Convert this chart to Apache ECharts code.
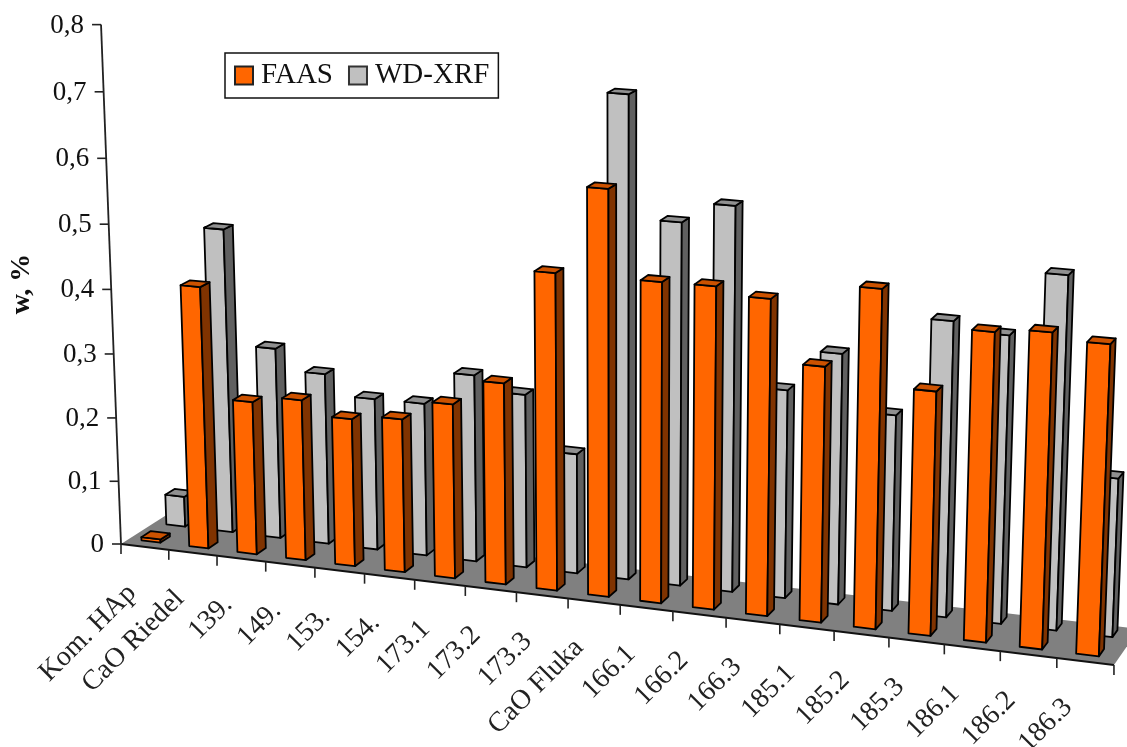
<!DOCTYPE html>
<html>
<head>
<meta charset="utf-8">
<script src="https://cdn.jsdelivr.net/npm/echarts@6/dist/echarts.min.js"></script>
<style>
html,body{margin:0;padding:0;background:#fff}
#chart{width:1127px;height:747px}
</style>
</head>
<body>
<div id="chart"></div>
<script>
const categories = ['Kom. HAp','CaO Riedel','139.','149.','153.','154.','173.1','173.2','173.3','CaO Fluka','166.1','166.2','166.3','185.1','185.2','185.3','186.1','186.2','186.3'];
const faas = [0.005,0.409,0.239,0.250,0.229,0.237,0.268,0.308,0.480,0.610,0.481,0.482,0.471,0.380,0.500,0.360,0.453,0.460,0.451];
const wdxrf = [0.048,0.478,0.300,0.268,0.237,0.238,0.290,0.268,0.185,0.730,0.549,0.580,0.315,0.377,0.294,0.440,0.427,0.521,0.235];
const valueTicks = [0,0.1,0.2,0.3,0.4,0.5,0.6,0.7,0.8];

const SERIF = '"Liberation Serif","Times New Roman",serif';
const VALUE_MAX = 0.8;
const GRID = {left:121, top:24, width:993, height:520};

// Perspective of the chart box: s runs along the categories (0..1),
// d runs from the front wall to the back wall (0..1), v is the axis value.
const L = -0.048;
function project(s, d, v) {
  const W = 1 - 0.09*s + 0.025*d + L*v;
  return [
    (121 + 892.7*s + 51.2*d + L*621*v) / W,
    (544 + 61.15*s - 17.15*d + L*13550*v) / W
  ];
}

// Reads the axis scales, then places the result in the perspective box.
function axisPos(api, params, catIndex, value) {
  const r = params.coordSys;
  const p = api.coord([catIndex, value]);
  return {s:(p[0]-r.x)/r.width, v:VALUE_MAX*(r.y+r.height-p[1])/r.height, band:1/categories.length};
}

function face(points, fill) {
  return {type:'polygon', shape:{points}, style:{fill, stroke:'#000', lineWidth:1.8, lineJoin:'round'}};
}

// One box: front, right side and top faces, drawn for a fixed depth slot.
function barRenderer(d0, d1, front, side, top) {
  return function (params, api) {
    const a = axisPos(api, params, api.value(0), api.value(1));
    const s0 = a.s - 0.24*a.band, s1 = a.s + 0.16*a.band, v = a.v;
    return {type:'group', children:[
      face([project(s0,d0,0),project(s1,d0,0),project(s1,d0,v),project(s0,d0,v)], front),
      face([project(s1,d0,0),project(s1,d1,0),project(s1,d1,v),project(s1,d0,v)], side),
      face([project(s0,d0,v),project(s1,d0,v),project(s1,d1,v),project(s0,d1,v)], top)
    ]};
  };
}

function renderFloor() {
  const front0 = project(0,0,0), front1 = project(1,0,0);
  return {type:'group', children:[
    {type:'polygon', shape:{points:[front0,front1,project(1,1,0),project(0,1,0)]}, style:{fill:'#808080'}},
    {type:'polyline', shape:{points:[front0,front1]}, style:{fill:'none', stroke:'#111', lineWidth:1.8}},
    {type:'polyline', shape:{points:[front0,project(0,0,VALUE_MAX)]}, style:{fill:'none', stroke:'#222', lineWidth:1.8}}
  ]};
}

function renderCategoryTick(params, api) {
  const i = api.value(0);
  const a = axisPos(api, params, i, 0);
  const p = project(a.s - 0.5*a.band, 0, 0);
  const children = [{type:'line', shape:{x1:p[0],y1:p[1],x2:p[0],y2:p[1]+10}, style:{stroke:'#222', lineWidth:1.6}},
    {type:'text', x:p[0]+11, y:p[1]+45, rotation:Math.PI/4,
     style:{text:categories[i], align:'right', verticalAlign:'middle', font:'28px '+SERIF, fill:'#222'}}];
  if (i === categories.length-1) {
    const e = project(a.s + 0.5*a.band, 0, 0);
    children.push({type:'line', shape:{x1:e[0],y1:e[1],x2:e[0],y2:e[1]+10}, style:{stroke:'#222', lineWidth:1.6}});
  }
  return {type:'group', children};
}

function renderValueTick(params, api) {
  const value = api.value(1);
  const a = axisPos(api, params, 0, value);
  const p = project(0,0,a.v);
  return {type:'group', children:[
    {type:'line', shape:{x1:p[0]-9,y1:p[1],x2:p[0],y2:p[1]}, style:{stroke:'#222', lineWidth:1.6}},
    {type:'text', x:p[0]-17, y:p[1]+1,
     style:{text:value === 0 ? '0' : value.toFixed(1).replace('.',','), align:'right', verticalAlign:'middle', font:'27px '+SERIF, fill:'#111'}}
  ]};
}

const chart = echarts.init(document.getElementById('chart'), null, {renderer:'canvas'});
chart.setOption({
  animation:false,
  backgroundColor:'#fff',
  grid:Object.assign({containLabel:false}, GRID),
  legend:{
    data:['FAAS','WD-XRF'], left:225, top:53, orient:'horizontal',
    padding:[8,9,8,9], itemGap:15, itemWidth:18, itemHeight:18,
    backgroundColor:'#fff', borderColor:'#111', borderWidth:1.5, borderRadius:0,
    icon:'rect', selectedMode:false,
    textStyle:{fontFamily:SERIF, fontSize:29, color:'#111', padding:[0,0,0,3]}
  },
  xAxis:{type:'category', data:categories, show:false},
  yAxis:{
    type:'value', min:0, max:VALUE_MAX, interval:0.1,
    name:'w, %', nameLocation:'middle', nameRotate:90, nameGap:97,
    nameTextStyle:{fontFamily:SERIF, fontSize:28, fontWeight:'bold', color:'#111'},
    axisLine:{show:false}, axisTick:{show:false}, axisLabel:{show:false}, splitLine:{show:false}
  },
  series:[
    {type:'custom', name:'floor', silent:true, clip:false, z:1, renderItem:renderFloor, data:[[0,0]], encode:{x:0,y:1}},
    {type:'custom', name:'categoryAxis', silent:true, clip:false, z:2, renderItem:renderCategoryTick,
     data:categories.map((c,i)=>[i,0]), encode:{x:0,y:1}},
    {type:'custom', name:'valueAxis', silent:true, clip:false, z:2, renderItem:renderValueTick,
     data:valueTicks.map(v=>[0,v]), encode:{x:0,y:1}},
    {type:'custom', name:'WD-XRF', silent:true, clip:false, z:3,
     itemStyle:{color:'#C0C0C0', borderColor:'#333', borderWidth:1.5},
     renderItem:barRenderer(0.70,0.90,'#C0C0C0','#606060','#909090'),
     data:wdxrf.map((v,i)=>[i,v]), encode:{x:0,y:1}},
    {type:'custom', name:'FAAS', silent:true, clip:false, z:4,
     itemStyle:{color:'#FF6600', borderColor:'#222', borderWidth:1.5},
     renderItem:barRenderer(0.17,0.37,'#FF6600','#803300','#CC5200'),
     data:faas.map((v,i)=>[i,v]), encode:{x:0,y:1}}
  ]
});
</script>
</body>
</html>
